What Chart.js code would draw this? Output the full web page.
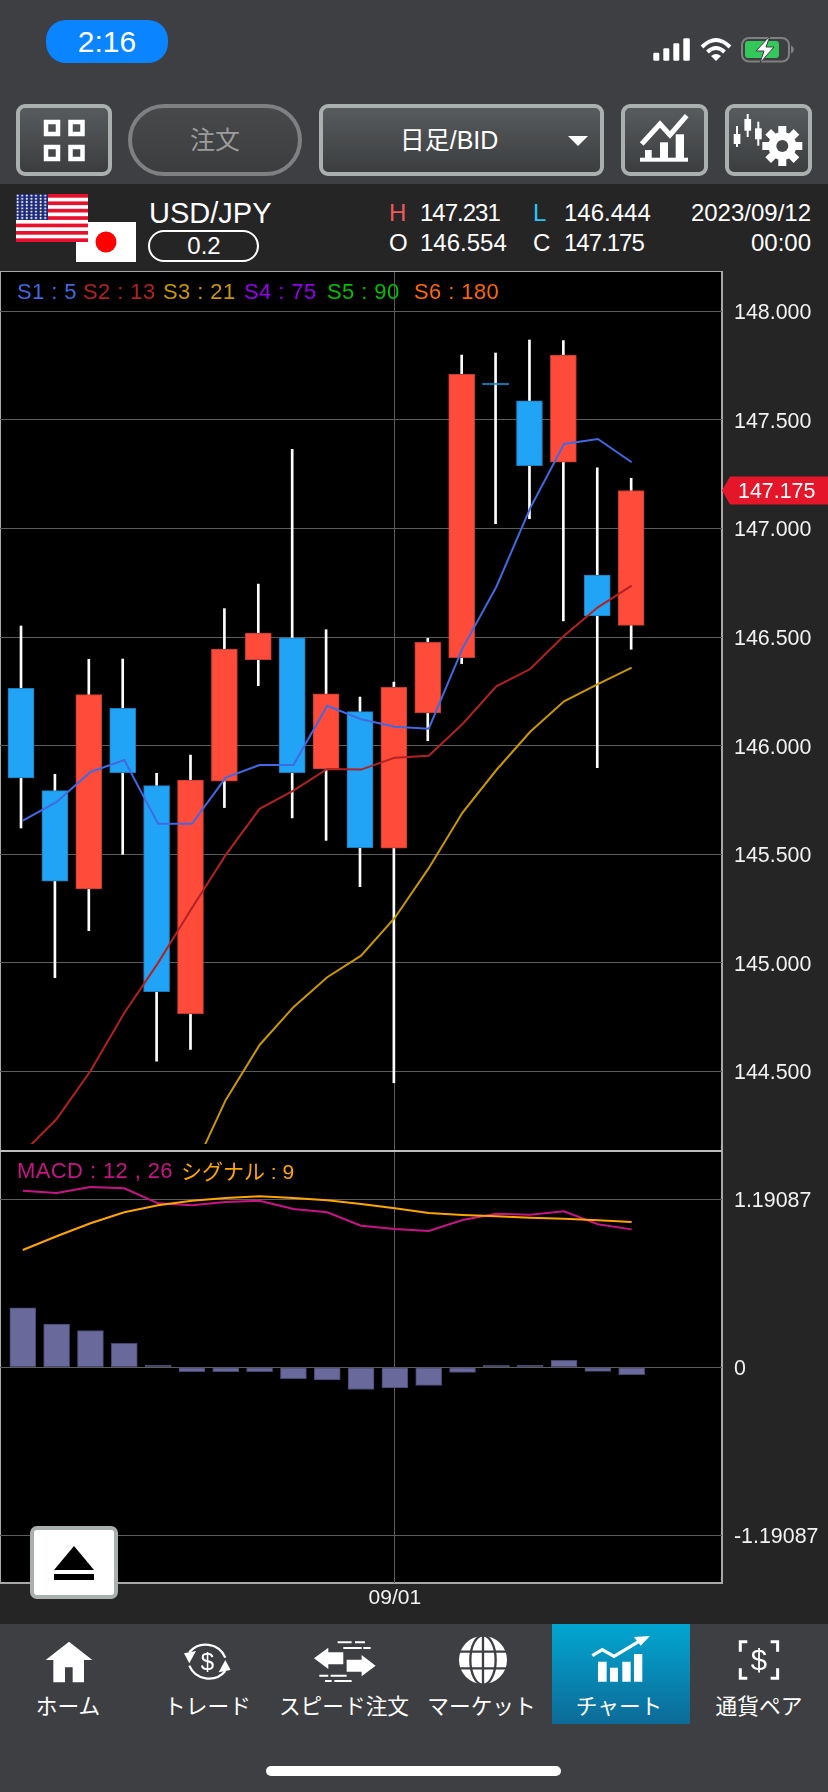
<!DOCTYPE html>
<html lang="ja"><head><meta charset="utf-8">
<script src="https://cdn.jsdelivr.net/npm/chart.js@4/dist/chart.umd.min.js"></script>
<style>
html,body{margin:0;padding:0;background:#3e3f42;}
body{width:828px;height:1792px;position:relative;overflow:hidden;font-family:"Liberation Sans","Noto Sans CJK JP",sans-serif;color:#fff;}
.a{position:absolute;white-space:nowrap;line-height:1;}
.c{transform:translate(-50%,-50%);}
.m{transform:translateY(-50%);}
.btn{position:absolute;box-sizing:border-box;top:104px;height:72px;border:4px solid #a9b0ae;border-radius:9px;background:linear-gradient(#585b5d,#3b3d3f);}
#dark{position:absolute;left:0;top:184px;width:828px;height:1440px;background:#252525;}
#frame{position:absolute;left:0;top:271px;width:723px;height:1313px;box-sizing:border-box;background:#000;border:2px solid #a8a8a8;border-width:1.5px 2px 2px 1px;}
#sep{position:absolute;left:0;top:1150px;width:722px;height:2px;background:#bdbdbd;z-index:3;}
#gap{position:absolute;left:394px;top:1144px;width:1px;height:8px;background:#5c5c5c;z-index:2;}
canvas{position:absolute;left:0;z-index:2;}
#active{position:absolute;left:552px;top:1624px;width:138px;height:100px;background:linear-gradient(#02a6d1,#0d6a97);}
#home{position:absolute;left:266px;top:1766px;width:295px;height:10px;border-radius:5px;background:#fff;}
#pill{position:absolute;left:46px;top:20px;width:122px;height:43px;border-radius:20px;background:#0a84ff;}
#eject{position:absolute;left:30px;top:1526px;width:88px;height:73px;box-sizing:border-box;background:#fff;border:4px solid #a9b0ae;border-radius:7px;z-index:4;}
.lg{font-size:22px;letter-spacing:.4px;z-index:3;}
.nav{font-size:21.7px;top:1707px;}
.hd{font-size:24px;}
.n1{letter-spacing:-1px;}
svg#ic{position:absolute;left:0;top:0;z-index:5;pointer-events:none;}
</style></head><body>
<div id="pill"></div>
<div class="a c" style="left:107px;top:42px;font-size:30px;">2:16</div>

<div class="btn" style="left:16px;width:96px;"></div>
<div class="btn" style="left:128px;width:174px;border-radius:36px;border-color:#7e8082;background:linear-gradient(#48494b,#3c3d3f);"></div>
<div class="a c" style="left:215px;top:140px;font-size:25px;color:#9c9c9c;">注文</div>
<div class="btn" style="left:319px;width:285px;"></div>
<div class="a c" style="left:449px;top:140px;font-size:25px;">日足/BID</div>
<div class="btn" style="left:621px;width:87px;"></div>
<div class="btn" style="left:725px;width:87px;"></div>

<div id="dark"></div>
<div class="a" style="left:149px;top:213px;font-size:29px;transform:translateY(-50%);">USD/JPY</div>
<div class="a" style="left:148px;top:230px;width:111px;height:32px;box-sizing:border-box;border:2px solid #fff;border-radius:16px;"></div>
<div class="a c" style="left:204px;top:246px;font-size:24px;">0.2</div>
<div class="a m hd" style="left:389px;top:213px;color:#ee5a5a;">H</div>
<div class="a m hd n1" style="left:420px;top:213px;">147.231</div>
<div class="a m hd" style="left:533px;top:213px;color:#2cc4f5;">L</div>
<div class="a m hd" style="left:564px;top:213px;">146.444</div>
<div class="a m hd" style="right:17px;top:213px;">2023/09/12</div>
<div class="a m hd" style="left:389px;top:243px;">O</div>
<div class="a m hd" style="left:420px;top:243px;">146.554</div>
<div class="a m hd" style="left:533px;top:243px;">C</div>
<div class="a m hd n1" style="left:564px;top:243px;">147.175</div>
<div class="a m hd" style="right:17px;top:243px;">00:00</div>

<div id="frame"></div>
<div id="gap"></div>
<div id="sep"></div>
<canvas id="price" width="828" height="872" style="top:272px"></canvas>
<canvas id="macd" width="828" height="472" style="top:1152px"></canvas>

<div class="a m lg" style="left:17px;top:292px;color:#4169e1;">S1 : 5</div>
<div class="a m lg" style="left:83px;top:292px;color:#b22222;">S2 : 13</div>
<div class="a m lg" style="left:163px;top:292px;color:#c99700;">S3 : 21</div>
<div class="a m lg" style="left:244px;top:292px;color:#9400f0;">S4 : 75</div>
<div class="a m lg" style="left:327px;top:292px;color:#00c000;">S5 : 90</div>
<div class="a m lg" style="left:414px;top:292px;color:#ff6600;">S6 : 180</div>
<div class="a m lg" style="left:17px;top:1171px;color:#c71585;">MACD : 12 , 26</div>
<div class="a m lg" style="left:181px;top:1171px;color:#ffa500;font-size:21px;letter-spacing:0;">シグナル : 9</div>

<div id="eject"></div>

<div id="active"></div>
<div class="a c nav" style="left:68px;">ホーム</div>
<div class="a c nav" style="left:207.5px;">トレード</div>
<div class="a c nav" style="left:344px;">スピード注文</div>
<div class="a c nav" style="left:481.5px;">マーケット</div>
<div class="a c nav" style="left:619px;">チャート</div>
<div class="a c nav" style="left:759px;">通貨ペア</div>
<div id="home"></div>

<svg id="ic" width="828" height="1792" viewBox="0 0 828 1792" xmlns="http://www.w3.org/2000/svg">
<defs>
<pattern id="st" x="16" y="194" width="4.6" height="3.2" patternUnits="userSpaceOnUse"><circle cx="1.6" cy="1.5" r="1" fill="#fff"/></pattern>
</defs>
<!-- status -->
<g fill="#fff">
<rect x="653.3" y="52.7" width="6" height="8" rx="1.2"/><rect x="663.3" y="48.3" width="6" height="12.4" rx="1.2"/>
<rect x="673.3" y="43.3" width="6" height="17.4" rx="1.2"/><rect x="683.3" y="38.3" width="6.5" height="22.4" rx="1.2"/>
</g>
<g fill="none" stroke="#fff" stroke-width="4">
<path d="M702 47 Q716 33 730 47"/><path d="M707.5 52 Q716 44 724.5 52"/>
</g>
<path d="M711 56 Q716 52 721 56 L716 61 Z" fill="#fff"/>
<rect x="742" y="38" width="47" height="23.5" rx="7" fill="none" stroke="#808080" stroke-width="2"/>
<rect x="745" y="41" width="34" height="17" rx="3" fill="#34c759"/>
<path d="M791 45.5 Q794 47 794 49.5 Q794 52 791 53.5 Z" fill="#808080"/>
<path d="M770 36 L756 51 L764 51 L760 63 L774 47 L766 47 Z" fill="#fff" stroke="#3e3f42" stroke-width="1"/>
<!-- grid button -->
<g fill="none" stroke="#fff" stroke-width="4.5">
<rect x="46" y="122" width="12" height="12"/><rect x="70.5" y="122" width="12" height="12"/>
<rect x="46" y="147" width="12" height="12"/><rect x="70.5" y="147" width="12" height="12"/>
</g>
<path d="M568 136 H588 L578 146 Z" fill="#fff"/>
<!-- chart button -->
<g fill="#fff">
<rect x="640" y="157.7" width="48" height="4"/>
<rect x="645" y="150" width="6.7" height="9"/><rect x="660" y="142.3" width="8" height="17"/><rect x="675.7" y="134.3" width="8.3" height="25"/>
</g>
<polyline points="641.7,144 660,124 670,135 686.7,115.7" fill="none" stroke="#fff" stroke-width="5"/>
<!-- settings button -->
<g fill="#fff">
<rect x="736" y="126" width="2" height="21"/><rect x="733.7" y="134" width="6.7" height="10"/>
<rect x="746.7" y="114" width="2" height="23"/><rect x="744.4" y="119" width="6.7" height="11.7"/>
<rect x="757.3" y="121.7" width="2" height="24"/><rect x="755" y="128.3" width="6.7" height="11"/>
<g transform="translate(782.3,146)">
<circle r="14"/>
<g id="t"><rect x="-4" y="-20" width="8" height="40"/><rect x="-4" y="-20" width="8" height="40" transform="rotate(45)"/><rect x="-4" y="-20" width="8" height="40" transform="rotate(90)"/><rect x="-4" y="-20" width="8" height="40" transform="rotate(135)"/></g>
<circle r="6" fill="#46484a"/>
</g></g>
<!-- flags -->
<rect x="76" y="222" width="60" height="40" fill="#fff"/>
<circle cx="106" cy="242" r="10.5" fill="#ff0000"/>
<rect x="16" y="194" width="72" height="48" fill="#fff"/>
<g fill="#e8112d">
<rect x="16" y="194" width="72" height="3.7"/><rect x="16" y="201.4" width="72" height="3.7"/><rect x="16" y="208.8" width="72" height="3.7"/><rect x="16" y="216.2" width="72" height="3.7"/><rect x="16" y="223.6" width="72" height="3.7"/><rect x="16" y="231" width="72" height="3.7"/><rect x="16" y="238.3" width="72" height="3.7"/>
</g>
<rect x="16" y="194" width="32" height="26" fill="#1e2a78"/>
<rect x="16" y="194" width="32" height="26" fill="url(#st)"/>
<!-- eject -->
<path d="M74 1546 L94 1570 H54 Z" fill="#000"/><rect x="54" y="1574" width="40" height="6" fill="#000"/>
<!-- nav left -->
<g transform="translate(0,1625) scale(.3333)" fill="#fff">
<path d="M207 50 L277 105 H252 V172 H218 V127 H195 V172 H160 V105 H137 Z"/>
<g fill="none" stroke="#fff" stroke-width="7">
<path d="M568 82 A64 64 0 0 1 676 98"/><path d="M676 138 A64 64 0 0 1 568 122"/>
</g>
<path d="M552 85 L588 78 L568 115 Z"/><path d="M692 135 L656 142 L676 105 Z"/>
<text x="622" y="134" font-size="72" text-anchor="middle" font-family="Liberation Sans">$</text>
<path d="M942 100 L985 68 V82 H1030 V118 H985 V132 Z"/><path d="M1127 122 L1085 90 V104 H1040 V140 H1085 V154 Z"/>
<g fill="none" stroke="#fff" stroke-width="6">
<path d="M1013 52 H1055 M1065 52 H1095 M1030 69 H1085 M1090 69 H1112 M958 152 H985 M992 152 H1040 M975 168 H995 M1003 168 H1055"/>
</g>
</g>
<!-- nav right -->
<g transform="translate(414,1625) scale(.3333)" fill="#fff">
<circle cx="207" cy="105" r="72"/>
<g fill="none" stroke="#3e3f42" stroke-width="7">
<ellipse cx="207" cy="105" rx="38" ry="74"/>
<path d="M207 30 V180 M130 80 H285 M130 130 H285"/>
</g>
<path d="M552 110 H578 V170 H552 Z M588 128 H612 V170 H588 Z M625 110 H650 V170 H625 Z M660 87 H685 V170 H660 Z"/>
<polyline points="535,92 565,74 600,94 680,46" fill="none" stroke="#fff" stroke-width="10"/>
<path d="M660 36 L708 33 L680 62 Z"/>
<g fill="none" stroke="#fff" stroke-width="9">
<path d="M1000 50 H979 V80 M1070 50 H1091 V80 M1000 160 H979 V130 M1070 160 H1091 V130"/>
</g>
<text x="1035" y="135" font-size="88" text-anchor="middle" font-family="Liberation Sans">$</text>
</g>
</svg>

<script>
// --- Price pane (USD/JPY daily) ---
const open  = [146.264,145.793,145.340,146.172,145.816,144.766,145.837,146.396,146.497,145.893,146.157,145.528,146.151,146.405,147.669,147.588,147.305,146.785,146.554];
const high  = [146.551,145.868,146.398,146.399,145.873,145.957,146.631,146.744,147.365,146.534,146.224,146.293,146.494,147.799,147.808,147.868,147.865,147.279,147.231];
const low   = [145.621,144.932,145.148,145.500,144.547,144.602,145.715,146.276,145.667,145.564,145.351,144.448,146.023,146.378,147.022,147.045,146.575,145.899,146.444];
const close = [145.851,145.376,146.235,145.876,144.867,145.842,146.445,146.519,145.876,146.239,145.530,146.269,146.476,147.710,147.661,147.289,147.799,146.597,147.175];
const sma5  = [145.655,145.741,145.879,145.934,145.640,145.640,145.853,145.911,145.911,146.184,146.122,146.087,146.078,146.448,146.732,147.094,147.389,147.412,147.305];
const sma13 = [144.125,144.281,144.502,144.769,145.000,145.253,145.497,145.709,145.793,145.893,145.890,145.945,145.954,146.100,146.273,146.353,146.506,146.637,146.737];
const sma21 = [null,null,null,null,null,144.033,144.369,144.622,144.796,144.934,145.033,145.208,145.436,145.692,145.888,146.064,146.204,146.283,146.359];
const currentPrice = 147.175;
const priceTicks = [148,147.5,147,146.5,146,145.5,145,144.5];

// --- MACD pane ---
const macdLine   = [1.250,1.234,1.276,1.267,1.160,1.146,1.170,1.179,1.120,1.097,1.002,0.979,0.965,1.042,1.087,1.080,1.104,1.012,0.976];
const signalLine = [0.830,0.927,1.019,1.097,1.146,1.179,1.198,1.210,1.198,1.182,1.156,1.125,1.092,1.078,1.068,1.059,1.052,1.040,1.028];
const histogram  = [0.420,0.306,0.259,0.170,0.016,-0.031,-0.031,-0.031,-0.080,-0.090,-0.156,-0.146,-0.128,-0.036,0.014,0.016,0.049,-0.029,-0.052];
const macdTicks  = [1.19087,0,-1.19087];

// --- Time axis ---
const dateTickIndex = [11];
const dateTickLabels = ['09/01'];

const GRID = '#5c5c5c';
const UP = '#ff4b3a', UP_EDGE = '#c23a2e', DOWN = '#22a4f6', DOWN_EDGE = '#1a7cba';
const XR_CANDLE = {min:-0.62, max:20.68};
const XR_LINE   = {min:-0.674, max:20.67};
const PRICE_RANGE = {min:144.166, max:148.181};
const MACD_RANGE  = {min:-1.5265, max:1.5235};
const LABEL_DROP_PRICE = 0.009, LABEL_DROP_MACD = 0.014; // tick text sits optically on its gridline
const FONT = {family:'"Liberation Sans",sans-serif', size:21.4};
const RIGHT_W = 106;

Chart.defaults.font.family = FONT.family;

const pts = arr => arr.map((v,i)=>({x:i,y:v}));
const isUp = open.map((o,i)=>close[i]>=o);
const gridAxis = (range,ticks) => ({position:'right',min:range.min,max:range.max,
  afterBuildTicks:s=>{s.ticks=ticks.map(v=>({value:v}));},
  afterFit:s=>{s.width=0;s.paddingTop=0;s.paddingBottom=0;},
  grid:{color:GRID,drawTicks:false},border:{display:false},ticks:{display:false}});
const labelAxis = (range,drop,ticks,fmt) => ({position:'right',min:range.min+drop,max:range.max+drop,
  afterBuildTicks:s=>{s.ticks=ticks.map(v=>({value:v}));},
  afterFit:s=>{s.width=RIGHT_W;s.paddingTop=0;s.paddingBottom=0;},
  grid:{display:false,drawTicks:false},border:{display:false},
  ticks:{color:'#f2f2f2',font:FONT,padding:12,callback:fmt}});
const line = (data,color,w) => ({type:'line',data:pts(data),xAxisID:'xLine',borderColor:color,borderWidth:w,pointRadius:0,tension:0,fill:false,spanGaps:false,order:0,borderJoinStyle:'miter'});

const priceTag = {
  id:'priceTag',
  afterDraw(c){
    const y = c.scales.y.getPixelForValue(currentPrice), x = c.chartArea.right, g = c.ctx;
    g.save();
    g.fillStyle = '#e5162a';
    g.beginPath(); g.moveTo(x,y); g.lineTo(x+8,y-14); g.lineTo(828,y-14); g.lineTo(828,y+14); g.lineTo(x+8,y+14); g.closePath(); g.fill();
    g.fillStyle = '#fff'; g.font = '21.4px '+FONT.family; g.textBaseline='middle'; g.textAlign='left';
    g.fillText(currentPrice.toFixed(3), x+16, y+2);
    g.restore();
  }
};

new Chart(document.getElementById('price'),{
  type:'bar',
  data:{datasets:[
    line(sma5,'#4169e1',2),
    line(sma13,'#b22222',2),
    line(sma21,'#c99700',2),
    {type:'bar',data:open.map((o,i)=>({x:i,y:[o,close[i]]})),barThickness:26,grouped:false,
     backgroundColor:isUp.map(u=>u?UP:DOWN),borderColor:isUp.map(u=>u?UP_EDGE:DOWN_EDGE),borderWidth:1,borderSkipped:false,order:1},
    {type:'bar',data:low.map((l,i)=>({x:i,y:[l,high[i]]})),barThickness:2,grouped:false,
     backgroundColor:'#ffffff',borderWidth:0,order:2}
  ]},
  options:{
    responsive:false,animation:false,events:[],
    layout:{padding:0},
    plugins:{legend:{display:false},tooltip:{enabled:false}},
    scales:{
      x:{type:'linear',display:false,offset:false,min:XR_CANDLE.min,max:XR_CANDLE.max},
      xLine:{type:'linear',position:'bottom',offset:false,min:XR_LINE.min,max:XR_LINE.max,
        afterBuildTicks:s=>{s.ticks=dateTickIndex.map(v=>({value:v}));},
        grid:{color:GRID,drawTicks:false,offset:false},border:{display:false},ticks:{display:false},
        afterFit:s=>{s.height=0;s.paddingLeft=0;s.paddingRight=0;}},
      y:gridAxis(PRICE_RANGE,priceTicks),
      yLabels:labelAxis(PRICE_RANGE,LABEL_DROP_PRICE,priceTicks,v=>v.toFixed(3))
    }
  },
  plugins:[priceTag]
});

new Chart(document.getElementById('macd'),{
  type:'bar',
  data:{datasets:[
    {type:'line',data:pts(signalLine),borderColor:'#ffa500',borderWidth:2,pointRadius:0,tension:0,order:0},
    {type:'line',data:pts(macdLine),borderColor:'#c71585',borderWidth:2,pointRadius:0,tension:0,order:1},
    {type:'bar',data:pts(histogram),barThickness:26,grouped:false,backgroundColor:'#69699b',borderColor:'#45456e',borderWidth:1,borderSkipped:false,order:2}
  ]},
  options:{
    responsive:false,animation:false,events:[],
    layout:{padding:0},
    plugins:{legend:{display:false},tooltip:{enabled:false}},
    scales:{
      x:{type:'linear',position:'bottom',offset:false,min:XR_LINE.min,max:XR_LINE.max,
        afterBuildTicks:s=>{s.ticks=dateTickIndex.map(v=>({value:v}));},
        afterFit:s=>{s.height=41;s.paddingLeft=0;s.paddingRight=0;},
        grid:{color:GRID,drawTicks:false,offset:false},border:{display:false},
        ticks:{color:'#f2f2f2',font:{size:21},padding:3,maxRotation:0,autoSkip:false,
          callback:v=>dateTickLabels[dateTickIndex.indexOf(v)]}},
      y:gridAxis(MACD_RANGE,macdTicks),
      yLabels:labelAxis(MACD_RANGE,LABEL_DROP_MACD,macdTicks,v=>v===0?'0':v.toFixed(5))
    }
  }
});
</script>
</body></html>
